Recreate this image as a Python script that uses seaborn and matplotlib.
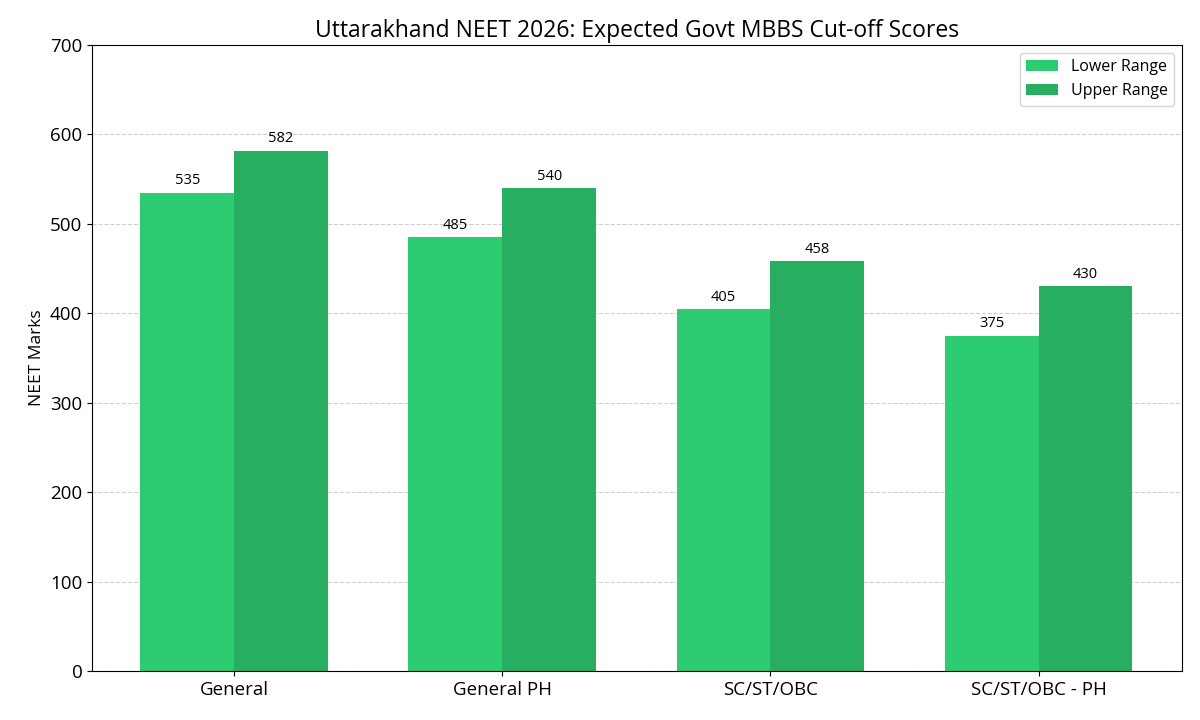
import matplotlib
matplotlib.use("Agg")
import matplotlib.pyplot as plt
import seaborn as sns
import pandas as pd

categories = ["General", "General PH", "SC/ST/OBC", "SC/ST/OBC - PH"]
lower_range = [535, 485, 405, 375]
upper_range = [582, 540, 458, 430]
series_names = ["Lower Range", "Upper Range"]
colors = ["#2ecc71", "#27ae60"]

df = pd.DataFrame({
    "Category": categories * 2,
    "Marks": lower_range + upper_range,
    "Series": [series_names[0]] * 4 + [series_names[1]] * 4,
})

plt.rcParams['font.family'] = ['Open Sans', 'DejaVu Sans']
fig, ax = plt.subplots(figsize=(12, 7.2), dpi=100)
sns.barplot(data=df, x="Category", y="Marks", hue="Series", palette=colors,
            width=0.7, ax=ax, saturation=1, edgecolor="none")
ax.set_axisbelow(True)
ax.yaxis.grid(True, linestyle="--", alpha=0.6)
ax.xaxis.grid(False)
for cont in ax.containers:
    ax.bar_label(cont, padding=3, fontsize=10.5)
ax.set_ylim(0, 700)
ax.set_xlim(-0.53, 3.535)
ax.set_xlabel("")
ax.set_ylabel("NEET Marks", fontsize=12.5)
ax.set_title("Uttarakhand NEET 2026: Expected Govt MBBS Cut-off Scores", fontsize=16.5)
ax.tick_params(axis="both", labelsize=13.5)
ax.legend(loc="upper right", fontsize=11.5, title=None)
fig.subplots_adjust(left=0.0767, right=0.985, top=0.9375, bottom=0.068)
fig.savefig("out.png", dpi=100)
